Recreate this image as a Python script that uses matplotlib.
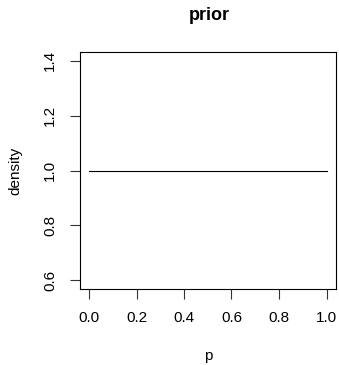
import matplotlib
matplotlib.use('Agg')
import matplotlib.pyplot as plt
import numpy as np

# prior: uniform density on [0, 1]
p = np.array([0.0, 1.0])
density = np.array([1.0, 1.0])
xticks = [0.0, 0.2, 0.4, 0.6, 0.8, 1.0]
yticks = [0.6, 0.8, 1.0, 1.2, 1.4]

plt.rcParams['font.family'] = ['Liberation Sans', 'DejaVu Sans']

W, H = 339, 365
fig = plt.figure(figsize=(W / 100, H / 100), dpi=100)
ax = fig.add_axes([79.5 / W, 1 - 289 / H, (336 - 79.5) / W, (289 - 52) / H])

ax.plot(p, density, color='black', linewidth=0.8)

ax.set_xlim(-0.04, 1.04)
ax.set_ylim(0.568, 1.432)
ax.set_xticks(xticks)
ax.set_xticklabels([f'{v:.1f}' for v in xticks])
ax.set_yticks(yticks)
ax.set_yticklabels([f'{v:.1f}' for v in yticks], rotation=90, va='center')
ax.tick_params(axis='both', length=7, width=0.8, labelsize=11, pad=9, color='#333333')

for s in ax.spines.values():
    s.set_linewidth(0.8)

ax.set_xlabel('p', fontsize=11, va='baseline')
ax.xaxis.set_label_coords(0.5, (289 - 360) / 237)
ax.set_ylabel('density', fontsize=11, va='center')
ax.yaxis.set_label_coords((15 - 79.5) / 256.5, 0.5)
fig.text(209 / W, 1 - 15 / H, 'prior', ha='center', va='center', fontsize=13, fontweight='bold')

fig.savefig('out.png', dpi=100)
